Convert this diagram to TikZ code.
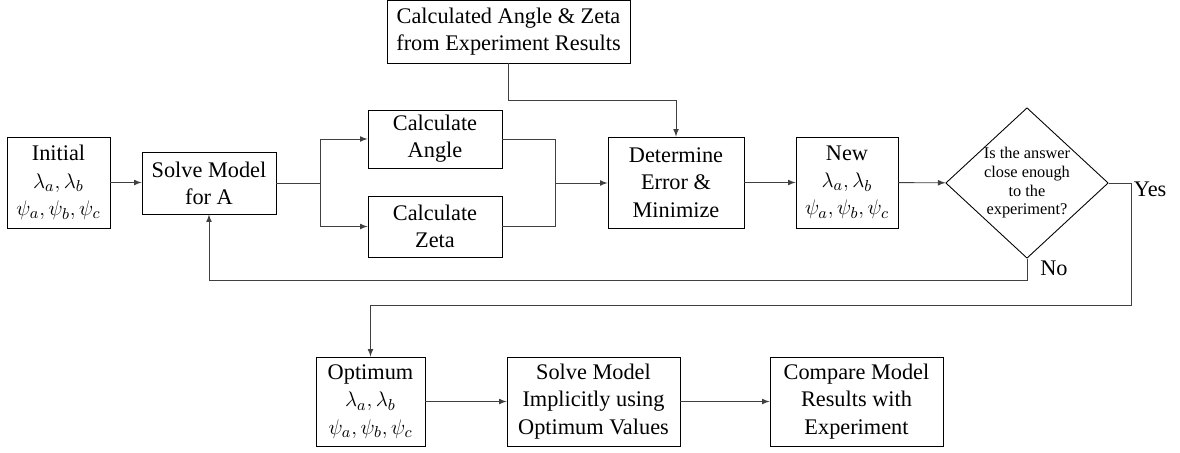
\documentclass[tikz,border=0pt]{standalone}
\usepackage{amsmath}
\usepackage{fontspec}
\setmainfont{Liberation Serif}
\usetikzlibrary{shapes.geometric}

\tikzset{
	block/.style={draw, align=center, inner sep=0pt, font=\fontsize{12.7}{15.5}\selectfont},
	check/.style={draw, diamond, aspect=1.08, inner sep=0pt, align=center, font=\fontsize{9.3}{10.6}\selectfont},
	arr/.style={->, >=latex},
	lab/.style={font=\fontsize{12.7}{15.5}\selectfont}
}

\begin{document}
\begin{tikzpicture}[x=0.02cm, y=-0.02cm, line width=0.5pt]
		\useasboundingbox (0,0) rectangle (1180,453);
		% top row
		\node[block, minimum width=2.06cm, minimum height=1.82cm] (init) at (58.5,182.5) {Initial\\ $\lambda_a,\lambda_b$\\ $\psi_a,\psi_b,\psi_c$};
		\node[block, minimum width=2.68cm, minimum height=1.24cm] (solve) at (209,183) {Solve Model\\ for A};
		\node[block, minimum width=2.68cm, minimum height=1.16cm] (angle) at (435,139) {Calculate\\ Angle};
		\node[block, minimum width=2.68cm, minimum height=1.22cm] (zeta) at (435,226.5) {Calculate\\ Zeta};
		\node[block, minimum width=4.86cm, minimum height=1.26cm] (expt) at (508.5,31.5) {Calculated Angle \& Zeta\\ from Experiment Results};
		\node[block, minimum width=2.72cm, minimum height=1.82cm] (error) at (676,182.5) {Determine\\ Error \&\\ Minimize};
		\node[block, minimum width=2.04cm, minimum height=1.82cm] (new) at (847,182.5) {New\\ $\lambda_a,\lambda_b$\\ $\psi_a,\psi_b,\psi_c$};
		\node[check, minimum width=3.08cm, minimum height=2.84cm] (close) at (1027,183) {Is the answer\\ close enough\\ to the\\ experiment?};
		% bottom row
		\node[block, minimum width=2.18cm, minimum height=1.78cm] (opt) at (370.5,401.5) {Optimum\\ $\lambda_a,\lambda_b$\\ $\psi_a,\psi_b,\psi_c$};
		\node[block, minimum width=3.46cm, minimum height=1.78cm] (implicit) at (593.5,401.5) {Solve Model\\ Implicitly using\\ Optimum Values};
		\node[block, minimum width=3.46cm, minimum height=1.78cm] (compare) at (856.5,401.5) {Compare Model\\ Results with\\ Experiment};

		\begin{scope}[black!75]
		\draw[arr] (init.east) -- (solve.west |- init.east);
		\draw (solve.east) -- ++(44,0) coordinate (split);
		\draw[arr] (split) |- (angle.west);
		\draw[arr] (split) |- (zeta.west);
		\coordinate (merge) at (555,183);
		\draw (angle.east) -| (merge);
		\draw (zeta.east) -| (merge);
		\draw[arr] (merge) -- (error.west |- merge);
		\draw[arr] (expt.south) -- ++(0,37) -| (error.north);
		\draw[arr] (error) -- (new);
		\draw[arr] (new) -- (close);
		\draw[arr] (close.south) -- ++(0,22) -| (solve.south);
		\draw[arr] (close.east) -- ++(23,0) coordinate (turn) -- (turn |- 0,305) -| (opt.north);
		\draw[arr] (opt) -- (implicit);
		\draw[arr] (implicit) -- (compare);
		\end{scope}
		\node[lab, anchor=west, inner sep=1pt] (yes) at ([yshift=-0.12cm]turn) {Yes};
		\node[lab, anchor=west] (no) at (1034,268) {No};
\end{tikzpicture}
\end{document}
